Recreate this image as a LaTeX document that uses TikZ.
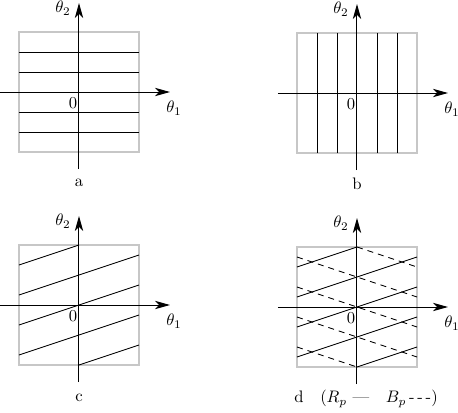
\documentclass[tikz,border=0pt]{standalone}
\usepackage{amsmath,amssymb}
\usepackage{xcolor}
\usetikzlibrary{arrows.meta}
\definecolor{boxgray}{gray}{0.78}

\begin{document}
\begin{tikzpicture}[x=0.6pt,y=0.6pt,
    >={Stealth[length=9pt,width=5pt,inset=2.5pt]},
    torus/.style={draw=boxgray,line width=1.5pt},
    axis/.style={->,line width=0.6pt},
    orbit/.style={line width=0.55pt},
    backorbit/.style={orbit,dash pattern=on 3.6pt off 3pt},
    lbl/.style={inner sep=0pt}]
  \useasboundingbox (0,0) rectangle (458,-413);
  % panel origins
  \coordinate (oa) at (79,-92);
  \coordinate (ob) at (357,-93);
  \coordinate (oc) at (79,-305);
  \coordinate (od) at (357,-307);

  % a: horizontal orbits
  \begin{scope}[shift={(oa)}]
    \draw[torus] (-60,-60) rectangle (60,60);
    \foreach \y in {-40,-20,20,40}
      \draw[orbit] (-60,\y) -- (60,\y);
    \node[lbl] (a-cap) at (0,-91) {a};
  \end{scope}

  % b: vertical orbits
  \begin{scope}[shift={(ob)}]
    \draw[torus] (-60,-60) rectangle (60,60);
    \foreach \x in {-40,-20,20,40}
      \draw[orbit] (\x,-60) -- (\x,60);
    \node[lbl] (b-cap) at (0,-91) {b};
  \end{scope}

  % c: slope 1/3, wrapped on the torus
  \begin{scope}[shift={(oc)}]
    \draw[torus] (-60,-60) rectangle (60,60);
    \draw[orbit] (-60,40) -- (0,60);
    \foreach \c in {30,0,-30}
      \draw[orbit] (-60,\c-20) -- (60,\c+20);
    \draw[orbit] (0,-60) -- (60,-40);
    \node[lbl] (c-cap) at (0,-93) {c};
  \end{scope}

  % d: both families
  \begin{scope}[shift={(od)}]
    \draw[torus] (-60,-60) rectangle (60,60);
    \draw[orbit] (-60,40) -- (0,60);
    \foreach \c in {30,0,-30}
      \draw[orbit] (-60,\c-20) -- (60,\c+20);
    \draw[orbit] (0,-60) -- (60,-40);
    \draw[backorbit] (0,60) -- (60,40);
    \foreach \c in {30,0,-30}
      \draw[backorbit] (-60,\c+20) -- (60,\c-20);
    \draw[backorbit] (-60,-40) -- (0,-60);
    \node[lbl,anchor=west] (d-cap) at (-63,-92)
      {d\quad($R_p$ --- \ \ $B_p$\,-\,-\,-)};
  \end{scope}

  % axes and their labels
  \foreach \p in {a,b,c,d}{
    \begin{scope}[shift={(o\p)}]
      \coordinate (\p-w) at (-79,0);
      \coordinate (\p-e) at (91,0);
      \coordinate (\p-s) at (0,-77);
      \coordinate (\p-n) at (0,89);
      \draw[axis] (\p-w) -- (\p-e);
      \draw[axis] (\p-s) -- (\p-n);
      \node[lbl] (\p-t1) at (95,-16) {$\theta_1$};
      \node[lbl] (\p-t2) at (-16,84) {$\theta_2$};
      \node[lbl] (\p-0) at (-6,-11) {0};
    \end{scope}
  }
\end{tikzpicture}
\end{document}
